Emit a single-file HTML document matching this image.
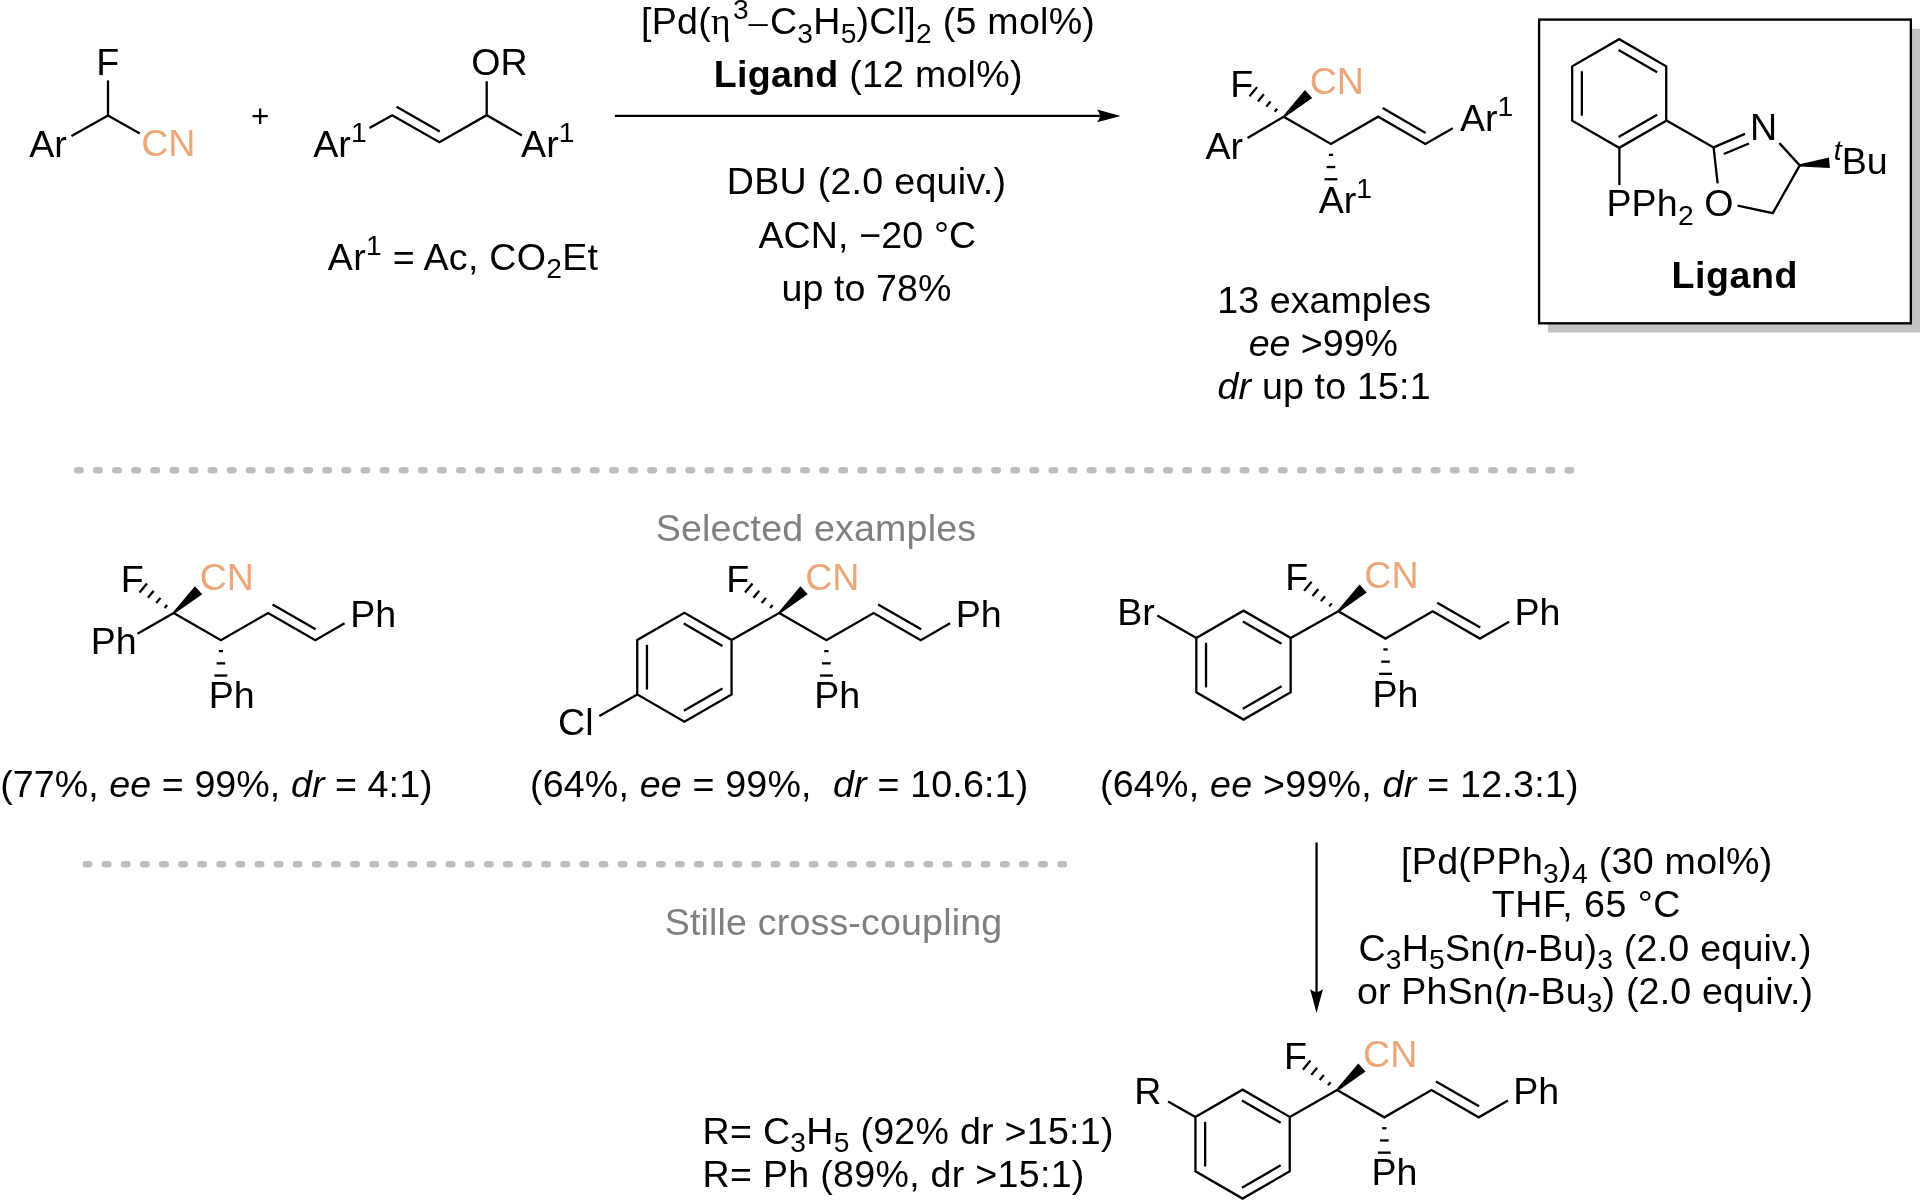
<!DOCTYPE html>
<html><head><meta charset="utf-8"><title>Scheme</title>
<style>
html,body{margin:0;padding:0;background:#fff}
svg{display:block;will-change:transform}
text{font-family:"Liberation Sans",sans-serif;white-space:pre}
</style></head><body>
<svg width="1920" height="1200" viewBox="0 0 1920 1200" xml:space="preserve">
<rect width="1920" height="1200" fill="#fff"/>
<line x1="108" y1="80.4" x2="108" y2="115.6" stroke="#000" stroke-width="2.3" stroke-linecap="butt"/>
<polyline fill="none" stroke="#000" stroke-width="2.3" stroke-linejoin="miter" points="71.5,136 108,115.6 139.8,133.6"/>
<text x="96.2" y="74.7" font-size="37.6"><tspan>F</tspan></text>
<text x="29.2" y="156.8" font-size="37.6"><tspan>Ar</tspan></text>
<text x="141.2" y="156.2" font-size="37.6" fill="#ECA778"><tspan>CN</tspan></text>
<text x="251.06" y="126.6" font-family="'Liberation Serif',serif" font-size="31.4">+</text>
<polyline fill="none" stroke="#000" stroke-width="2.3" stroke-linejoin="miter" points="369.5,128.1 392.2,115.2 439.4,142.2 486.7,115.2 521.9,135.5"/>
<line x1="486.7" y1="81.25" x2="486.7" y2="115.2" stroke="#000" stroke-width="2.3" stroke-linecap="butt"/>
<line x1="396.57" y1="106.76" x2="439.78" y2="131.47" stroke="#000" stroke-width="2.3" stroke-linecap="butt"/>
<text x="313.3" y="156.7" font-size="37.6"><tspan>Ar</tspan><tspan dy="-15" font-size="28.2">1</tspan></text>
<text x="521.1" y="156.7" font-size="37.6"><tspan>Ar</tspan><tspan dy="-15" font-size="28.2">1</tspan></text>
<text x="471.35" y="75.1" font-size="37.6"><tspan>OR</tspan></text>
<text x="327.85" y="269.9" font-size="37.6" letter-spacing="0.27"><tspan>Ar</tspan><tspan dy="-15" font-size="28.2">1</tspan><tspan dy="15"> = Ac, CO</tspan><tspan dy="8.3" font-size="28.2">2</tspan><tspan dy="-8.3">Et</tspan></text>
<line x1="614.9" y1="115.9" x2="1108.6" y2="115.9" stroke="#000" stroke-width="2.3" stroke-linecap="butt"/>
<path d="M1120.6,115.9 L1097.1,109.5 Q1099.6,112.9 1100.2,115.9 Q1099.6,118.9 1097.1,122.3 Z"/>
<text x="641" y="34.3" font-size="37.6" letter-spacing="0.26"><tspan>[Pd(</tspan><tspan font-family="'Liberation Serif','DejaVu Serif',serif" letter-spacing="2.26">η</tspan><tspan dy="-15" font-size="28.2">3</tspan><tspan dy="15" font-family="'Liberation Serif','DejaVu Serif',serif" letter-spacing="2.26">–</tspan><tspan>C</tspan><tspan dy="8.3" font-size="28.2">3</tspan><tspan dy="-8.3">H</tspan><tspan dy="8.3" font-size="28.2">5</tspan><tspan dy="-8.3">)Cl]</tspan><tspan dy="8.3" font-size="28.2">2</tspan><tspan dy="-8.3"> (5 mol%)</tspan></text>
<text x="713.8" y="87" font-size="37.6" letter-spacing="0.25"><tspan font-weight="bold">Ligand</tspan><tspan> (12 mol%)</tspan></text>
<text x="726.75" y="194.4" font-size="37.6" letter-spacing="0.28"><tspan>DBU (2.0 equiv.)</tspan></text>
<text x="758.4" y="247.8" font-size="37.6" letter-spacing="0.13"><tspan>ACN, −20 °C</tspan></text>
<text x="781.6" y="301.2" font-size="37.6" letter-spacing="0.07"><tspan>up to 78%</tspan></text>
<polyline fill="none" stroke="#000" stroke-width="2.3" stroke-linejoin="miter" points="1283.75,116.7 1330.95,143.95 1378.15,116.7 1425.35,143.95 1452.72,128.14"/>
<line x1="1382.65" y1="108.1" x2="1425.69" y2="132.95" stroke="#000" stroke-width="2.3" stroke-linecap="butt"/>
<polygon fill="#000" points="1283.01,115.89 1304.96,90.01 1312.24,97.99 1284.49,117.51"/>
<line x1="1274.7" y1="111.79" x2="1277.18" y2="108.78" stroke="#000" stroke-width="2.3" stroke-linecap="butt"/>
<line x1="1266.33" y1="106.63" x2="1270.49" y2="101.56" stroke="#000" stroke-width="2.3" stroke-linecap="butt"/>
<line x1="1257.95" y1="101.46" x2="1263.79" y2="94.35" stroke="#000" stroke-width="2.3" stroke-linecap="butt"/>
<line x1="1249.57" y1="96.29" x2="1257.09" y2="87.13" stroke="#000" stroke-width="2.3" stroke-linecap="butt"/>
<line x1="1333.1" y1="154.85" x2="1328.8" y2="154.85" stroke="#000" stroke-width="2.3" stroke-linecap="butt"/>
<line x1="1335.25" y1="167.05" x2="1326.65" y2="167.05" stroke="#000" stroke-width="2.3" stroke-linecap="butt"/>
<line x1="1337.4" y1="179.25" x2="1324.5" y2="179.25" stroke="#000" stroke-width="2.3" stroke-linecap="butt"/>
<text x="1230.3" y="96.7" font-size="37.6"><tspan>F</tspan></text>
<text x="1309.7" y="93.9" font-size="37.6" fill="#ECA778"><tspan>CN</tspan></text>
<line x1="1283.75" y1="116.7" x2="1247.5" y2="137.9" stroke="#000" stroke-width="2.3" stroke-linecap="butt"/>
<text x="1205.4" y="158.8" font-size="37.6"><tspan>Ar</tspan></text>
<text x="1318.75" y="212.9" font-size="37.6"><tspan>Ar</tspan><tspan dy="-15" font-size="28.2">1</tspan></text>
<text x="1460" y="131.3" font-size="37.6"><tspan>Ar</tspan><tspan dy="-15" font-size="28.2">1</tspan></text>
<text x="1217.25" y="313.1" font-size="37.6" letter-spacing="0.07"><tspan>13 examples</tspan></text>
<text x="1248.75" y="356.25" font-size="37.6" letter-spacing="-0.04"><tspan font-style="italic">ee</tspan><tspan> &gt;99%</tspan></text>
<text x="1217.5" y="399.4" font-size="37.6" letter-spacing="0.17"><tspan font-style="italic">dr</tspan><tspan> up to 15:1</tspan></text>
<rect x="1548.1" y="28.8" width="372" height="303.7" fill="#C3C3C3"/>
<rect x="1539.1" y="19.6" width="371.75" height="303.7" fill="#fff" stroke="#000" stroke-width="2.35"/>
<polygon fill="none" stroke="#000" stroke-width="2.3" stroke-linejoin="miter" points="1666.23,120.65 1619.2,147.8 1572.17,120.65 1572.17,66.35 1619.2,39.2 1666.23,66.35"/>
<line x1="1618.59" y1="50.05" x2="1657.13" y2="72.3" stroke="#000" stroke-width="2.3" stroke-linecap="butt"/>
<line x1="1657.13" y1="114.7" x2="1618.59" y2="136.95" stroke="#000" stroke-width="2.3" stroke-linecap="butt"/>
<line x1="1581.87" y1="115.75" x2="1581.87" y2="71.25" stroke="#000" stroke-width="2.3" stroke-linecap="butt"/>
<line x1="1619.4" y1="147.5" x2="1619.4" y2="185" stroke="#000" stroke-width="2.3" stroke-linecap="butt"/>
<text x="1606.4" y="216.3" font-size="37.6" letter-spacing="0.15"><tspan>PPh</tspan><tspan dy="8.3" font-size="28.2">2</tspan></text>
<polyline fill="none" stroke="#000" stroke-width="2.3" stroke-linejoin="miter" points="1666.5,120.5 1713.6,147.4 1745,133.9"/>
<line x1="1723.75" y1="154" x2="1749" y2="143.5" stroke="#000" stroke-width="2.3" stroke-linecap="butt"/>
<line x1="1713.6" y1="147.4" x2="1717.6" y2="183.4" stroke="#000" stroke-width="2.3" stroke-linecap="butt"/>
<text x="1749.9" y="139.75" font-size="37.6"><tspan>N</tspan></text>
<text x="1704.35" y="216.2" font-size="37.6"><tspan>O</tspan></text>
<polyline fill="none" stroke="#000" stroke-width="2.3" stroke-linejoin="miter" points="1779.4,143.1 1799.75,165.4 1772.75,213.1 1737.6,205.6"/>
<polygon fill="#000" points="1799.65,164.3 1828.94,157.52 1829.86,168.08 1799.85,166.5"/>
<text x="1833.75" y="160.25" font-size="28.2"><tspan font-style="italic">t</tspan></text>
<text x="1841.75" y="174.4" font-size="37.6"><tspan>Bu</tspan></text>
<text x="1671.5" y="288" font-size="37.6" font-weight="bold" letter-spacing="0.55"><tspan>Ligand</tspan></text>
<line x1="77.1" y1="470.3" x2="1572" y2="470.3" stroke="#BEBEBE" stroke-width="6.6" stroke-linecap="round" stroke-dasharray="3.4 15.71"/>
<line x1="85.8" y1="864.2" x2="1065" y2="864.2" stroke="#BEBEBE" stroke-width="6.6" stroke-linecap="round" stroke-dasharray="3.4 15.71"/>
<text x="655.65" y="540.9" font-size="37.6" fill="#808080" letter-spacing="0.18"><tspan>Selected examples</tspan></text>
<text x="664.75" y="935" font-size="37.6" fill="#808080" letter-spacing="0.16"><tspan>Stille cross-coupling</tspan></text>
<polyline fill="none" stroke="#000" stroke-width="2.3" stroke-linejoin="miter" points="173.7,613 220.9,640.25 268.1,613 315.3,640.25 344.56,623.36"/>
<line x1="272.6" y1="604.4" x2="315.64" y2="629.25" stroke="#000" stroke-width="2.3" stroke-linecap="butt"/>
<polygon fill="#000" points="172.96,612.19 194.91,586.31 202.19,594.29 174.44,613.81"/>
<line x1="164.65" y1="608.09" x2="167.13" y2="605.08" stroke="#000" stroke-width="2.3" stroke-linecap="butt"/>
<line x1="156.28" y1="602.93" x2="160.44" y2="597.86" stroke="#000" stroke-width="2.3" stroke-linecap="butt"/>
<line x1="147.9" y1="597.76" x2="153.74" y2="590.65" stroke="#000" stroke-width="2.3" stroke-linecap="butt"/>
<line x1="139.52" y1="592.59" x2="147.04" y2="583.43" stroke="#000" stroke-width="2.3" stroke-linecap="butt"/>
<line x1="223.05" y1="651.15" x2="218.75" y2="651.15" stroke="#000" stroke-width="2.3" stroke-linecap="butt"/>
<line x1="225.2" y1="663.35" x2="216.6" y2="663.35" stroke="#000" stroke-width="2.3" stroke-linecap="butt"/>
<line x1="227.35" y1="675.55" x2="214.45" y2="675.55" stroke="#000" stroke-width="2.3" stroke-linecap="butt"/>
<text x="120.7" y="591.7" font-size="37.6"><tspan>F</tspan></text>
<text x="199.7" y="589.7" font-size="37.6" fill="#ECA778"><tspan>CN</tspan></text>
<line x1="173.7" y1="613" x2="137.5" y2="633.8" stroke="#000" stroke-width="2.3" stroke-linecap="butt"/>
<text x="90.7" y="654.2" font-size="37.6"><tspan>Ph</tspan></text>
<text x="208.7" y="708.3" font-size="37.6"><tspan>Ph</tspan></text>
<text x="350.3" y="627" font-size="37.6"><tspan>Ph</tspan></text>
<text x="0.15" y="796.75" font-size="37.6" letter-spacing="0.09"><tspan>(77%, </tspan><tspan font-style="italic">ee</tspan><tspan> = 99%, </tspan><tspan font-style="italic">dr</tspan><tspan> = 4:1)</tspan></text>
<polyline fill="none" stroke="#000" stroke-width="2.3" stroke-linejoin="miter" points="779.2,613 826.4,640.25 873.6,613 920.8,640.25 950.06,623.36"/>
<line x1="878.1" y1="604.4" x2="921.14" y2="629.25" stroke="#000" stroke-width="2.3" stroke-linecap="butt"/>
<polygon fill="#000" points="778.46,612.19 800.41,586.31 807.69,594.29 779.94,613.81"/>
<line x1="770.15" y1="608.09" x2="772.63" y2="605.08" stroke="#000" stroke-width="2.3" stroke-linecap="butt"/>
<line x1="761.78" y1="602.93" x2="765.94" y2="597.86" stroke="#000" stroke-width="2.3" stroke-linecap="butt"/>
<line x1="753.4" y1="597.76" x2="759.24" y2="590.65" stroke="#000" stroke-width="2.3" stroke-linecap="butt"/>
<line x1="745.02" y1="592.59" x2="752.54" y2="583.43" stroke="#000" stroke-width="2.3" stroke-linecap="butt"/>
<line x1="828.55" y1="651.15" x2="824.25" y2="651.15" stroke="#000" stroke-width="2.3" stroke-linecap="butt"/>
<line x1="830.7" y1="663.35" x2="822.1" y2="663.35" stroke="#000" stroke-width="2.3" stroke-linecap="butt"/>
<line x1="832.85" y1="675.55" x2="819.95" y2="675.55" stroke="#000" stroke-width="2.3" stroke-linecap="butt"/>
<text x="726.2" y="591.7" font-size="37.6"><tspan>F</tspan></text>
<text x="805.2" y="589.7" font-size="37.6" fill="#ECA778"><tspan>CN</tspan></text>
<polygon fill="none" stroke="#000" stroke-width="2.3" stroke-linejoin="miter" points="731.56,694.43 684.4,721.65 637.24,694.43 637.24,639.98 684.4,612.75 731.56,639.98"/>
<line x1="683.79" y1="623.6" x2="722.46" y2="645.93" stroke="#000" stroke-width="2.3" stroke-linecap="butt"/>
<line x1="722.46" y1="688.47" x2="683.79" y2="710.8" stroke="#000" stroke-width="2.3" stroke-linecap="butt"/>
<line x1="646.94" y1="689.53" x2="646.94" y2="644.88" stroke="#000" stroke-width="2.3" stroke-linecap="butt"/>
<line x1="779.2" y1="613" x2="731.6" y2="640" stroke="#000" stroke-width="2.3" stroke-linecap="butt"/>
<line x1="637.3" y1="694.4" x2="599.3" y2="716" stroke="#000" stroke-width="2.3" stroke-linecap="butt"/>
<text x="558" y="735.3" font-size="37.6"><tspan>Cl</tspan></text>
<text x="814.2" y="708.3" font-size="37.6"><tspan>Ph</tspan></text>
<text x="955.8" y="627" font-size="37.6"><tspan>Ph</tspan></text>
<text x="529.95" y="796.6" font-size="37.6" letter-spacing="0.19"><tspan>(64%, </tspan><tspan font-style="italic">ee</tspan><tspan> = 99%,  </tspan><tspan font-style="italic">dr</tspan><tspan> = 10.6:1)</tspan></text>
<polyline fill="none" stroke="#000" stroke-width="2.3" stroke-linejoin="miter" points="1338.3,611.3 1385.5,638.55 1432.7,611.3 1479.9,638.55 1509.16,621.65"/>
<line x1="1437.2" y1="602.7" x2="1480.24" y2="627.55" stroke="#000" stroke-width="2.3" stroke-linecap="butt"/>
<polygon fill="#000" points="1337.56,610.49 1359.51,584.61 1366.79,592.59 1339.04,612.11"/>
<line x1="1329.25" y1="606.39" x2="1331.73" y2="603.38" stroke="#000" stroke-width="2.3" stroke-linecap="butt"/>
<line x1="1320.88" y1="601.23" x2="1325.04" y2="596.16" stroke="#000" stroke-width="2.3" stroke-linecap="butt"/>
<line x1="1312.5" y1="596.06" x2="1318.34" y2="588.95" stroke="#000" stroke-width="2.3" stroke-linecap="butt"/>
<line x1="1304.12" y1="590.89" x2="1311.64" y2="581.73" stroke="#000" stroke-width="2.3" stroke-linecap="butt"/>
<line x1="1387.65" y1="649.45" x2="1383.35" y2="649.45" stroke="#000" stroke-width="2.3" stroke-linecap="butt"/>
<line x1="1389.8" y1="661.65" x2="1381.2" y2="661.65" stroke="#000" stroke-width="2.3" stroke-linecap="butt"/>
<line x1="1391.95" y1="673.85" x2="1379.05" y2="673.85" stroke="#000" stroke-width="2.3" stroke-linecap="butt"/>
<text x="1285.3" y="590" font-size="37.6"><tspan>F</tspan></text>
<text x="1364.3" y="588" font-size="37.6" fill="#ECA778"><tspan>CN</tspan></text>
<polygon fill="none" stroke="#000" stroke-width="2.3" stroke-linejoin="miter" points="1290.66,692.33 1243.5,719.55 1196.34,692.33 1196.34,637.88 1243.5,610.65 1290.66,637.88"/>
<line x1="1242.89" y1="621.5" x2="1281.56" y2="643.83" stroke="#000" stroke-width="2.3" stroke-linecap="butt"/>
<line x1="1281.56" y1="686.37" x2="1242.89" y2="708.7" stroke="#000" stroke-width="2.3" stroke-linecap="butt"/>
<line x1="1206.04" y1="687.43" x2="1206.04" y2="642.77" stroke="#000" stroke-width="2.3" stroke-linecap="butt"/>
<line x1="1338.3" y1="611.3" x2="1290.7" y2="638" stroke="#000" stroke-width="2.3" stroke-linecap="butt"/>
<line x1="1196.4" y1="637.9" x2="1157.3" y2="615.6" stroke="#000" stroke-width="2.3" stroke-linecap="butt"/>
<text x="1117.3" y="624.6" font-size="37.6"><tspan>Br</tspan></text>
<text x="1372.5" y="706.7" font-size="37.6"><tspan>Ph</tspan></text>
<text x="1514.5" y="625.3" font-size="37.6"><tspan>Ph</tspan></text>
<text x="1099.95" y="796.6" font-size="37.6" letter-spacing="0.25"><tspan>(64%, </tspan><tspan font-style="italic">ee</tspan><tspan> &gt;99%, </tspan><tspan font-style="italic">dr</tspan><tspan> = 12.3:1)</tspan></text>
<line x1="1316.55" y1="842.5" x2="1316.55" y2="1000.9" stroke="#000" stroke-width="2.3" stroke-linecap="butt"/>
<path d="M1316.55,1012.9 L1310.15,989.3 Q1313.55,991.8 1316.55,992.4 Q1319.55,991.8 1322.95,989.3 Z"/>
<text x="1401.05" y="874.4" font-size="37.6" letter-spacing="0.3"><tspan>[Pd(PPh</tspan><tspan dy="8.3" font-size="28.2">3</tspan><tspan dy="-8.3">)</tspan><tspan dy="8.3" font-size="28.2">4</tspan><tspan dy="-8.3"> (30 mol%)</tspan></text>
<text x="1491.85" y="916.8" font-size="37.6" letter-spacing="0.48"><tspan>THF, 65 °C</tspan></text>
<text x="1358.4" y="960.8" font-size="37.6" letter-spacing="0.23"><tspan>C</tspan><tspan dy="8.3" font-size="28.2">3</tspan><tspan dy="-8.3">H</tspan><tspan dy="8.3" font-size="28.2">5</tspan><tspan dy="-8.3">Sn(</tspan><tspan font-style="italic">n</tspan><tspan>-Bu)</tspan><tspan dy="8.3" font-size="28.2">3</tspan><tspan dy="-8.3"> (2.0 equiv.)</tspan></text>
<text x="1356.9" y="1004" font-size="37.6" letter-spacing="0.18"><tspan>or PhSn(</tspan><tspan font-style="italic">n</tspan><tspan>-Bu</tspan><tspan dy="8.3" font-size="28.2">3</tspan><tspan dy="-8.3">) (2.0 equiv.)</tspan></text>
<polyline fill="none" stroke="#000" stroke-width="2.3" stroke-linejoin="miter" points="1337.1,1090.1 1384.3,1117.35 1431.5,1090.1 1478.7,1117.35 1507.96,1100.45"/>
<line x1="1436" y1="1081.5" x2="1479.04" y2="1106.35" stroke="#000" stroke-width="2.3" stroke-linecap="butt"/>
<polygon fill="#000" points="1336.36,1089.29 1358.31,1063.41 1365.59,1071.39 1337.84,1090.91"/>
<line x1="1328.05" y1="1085.19" x2="1330.53" y2="1082.18" stroke="#000" stroke-width="2.3" stroke-linecap="butt"/>
<line x1="1319.68" y1="1080.03" x2="1323.84" y2="1074.96" stroke="#000" stroke-width="2.3" stroke-linecap="butt"/>
<line x1="1311.3" y1="1074.86" x2="1317.14" y2="1067.75" stroke="#000" stroke-width="2.3" stroke-linecap="butt"/>
<line x1="1302.92" y1="1069.69" x2="1310.44" y2="1060.53" stroke="#000" stroke-width="2.3" stroke-linecap="butt"/>
<line x1="1386.45" y1="1128.25" x2="1382.15" y2="1128.25" stroke="#000" stroke-width="2.3" stroke-linecap="butt"/>
<line x1="1388.6" y1="1140.45" x2="1380" y2="1140.45" stroke="#000" stroke-width="2.3" stroke-linecap="butt"/>
<line x1="1390.75" y1="1152.65" x2="1377.85" y2="1152.65" stroke="#000" stroke-width="2.3" stroke-linecap="butt"/>
<text x="1284.1" y="1068.8" font-size="37.6"><tspan>F</tspan></text>
<text x="1363.1" y="1066.8" font-size="37.6" fill="#ECA778"><tspan>CN</tspan></text>
<polygon fill="none" stroke="#000" stroke-width="2.3" stroke-linejoin="miter" points="1289.76,1171.32 1242.6,1198.55 1195.44,1171.32 1195.44,1116.88 1242.6,1089.65 1289.76,1116.87"/>
<line x1="1241.99" y1="1100.5" x2="1280.66" y2="1122.83" stroke="#000" stroke-width="2.3" stroke-linecap="butt"/>
<line x1="1280.66" y1="1165.37" x2="1241.99" y2="1187.7" stroke="#000" stroke-width="2.3" stroke-linecap="butt"/>
<line x1="1205.14" y1="1166.42" x2="1205.14" y2="1121.78" stroke="#000" stroke-width="2.3" stroke-linecap="butt"/>
<line x1="1337.1" y1="1090.1" x2="1289.8" y2="1116.9" stroke="#000" stroke-width="2.3" stroke-linecap="butt"/>
<line x1="1195.4" y1="1116.9" x2="1168.1" y2="1101.5" stroke="#000" stroke-width="2.3" stroke-linecap="butt"/>
<text x="1134.25" y="1104.3" font-size="37.6"><tspan>R</tspan></text>
<text x="1371.5" y="1185.3" font-size="37.6"><tspan>Ph</tspan></text>
<text x="1513.3" y="1103.9" font-size="37.6"><tspan>Ph</tspan></text>
<text x="702.6" y="1143.6" font-size="37.6" letter-spacing="0.27"><tspan>R= C</tspan><tspan dy="8.3" font-size="28.2">3</tspan><tspan dy="-8.3">H</tspan><tspan dy="8.3" font-size="28.2">5</tspan><tspan dy="-8.3"> (92% dr &gt;15:1)</tspan></text>
<text x="702.6" y="1187.2" font-size="37.6" letter-spacing="0.29"><tspan>R= Ph (89%, dr &gt;15:1)</tspan></text>
</svg>
</body></html>
